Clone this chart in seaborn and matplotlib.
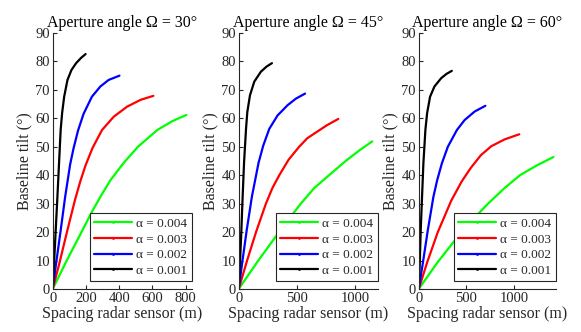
import numpy as np
import pandas as pd
import matplotlib
matplotlib.use("Agg")
import matplotlib.pyplot as plt
from matplotlib.lines import Line2D
import seaborn as sns

# valores (x em m, y em graus)
angulos = [30, 45, 60]
alfas = ["0.004", "0.003", "0.002", "0.001"]
cores = ["#00ff00", "#ff0000", "#0000ff", "#000000"]
xlims = [840, 1200, 1440]
xticks = [[0, 200, 400, 600, 800], [0, 500, 1000], [0, 500, 1000]]

# Omega = 30
x30_a1 = [0, 8, 18, 28, 38, 48, 57, 69, 89, 113, 141, 170, 198]
y30_a1 = [0, 8.8, 20.6, 32, 44, 56, 62, 67.6, 73.5, 77, 79.4, 81.2, 82.6]
x30_a2 = [0, 20, 48, 75, 105, 125, 152, 186, 236, 287, 337, 402]
y30_a2 = [0, 8.8, 20.6, 32.4, 43.8, 49.3, 55.6, 61.6, 67.6, 71.2, 73.5, 75]
x30_a3 = [0, 40, 89, 135, 166, 198, 240, 297, 368, 448, 529, 606]
y30_a3 = [0, 9, 20.8, 31.5, 37.8, 43.5, 49.6, 55.9, 60.6, 64.1, 66.5, 67.9]
x30_a4 = [0, 80, 160, 236, 287, 347, 424, 513, 630, 720, 805]
y30_a4 = [0, 9.5, 18.5, 27.1, 32.4, 38.2, 44.1, 50, 55.9, 59, 61.2]

# Omega = 45
x45_a1 = [0, 11, 23, 34, 46, 63, 74, 97, 134, 191, 240, 286]
y45_a1 = [0, 8.9, 20.7, 32.6, 44.4, 56.3, 62.2, 68.1, 72.9, 76.4, 78.2, 79.4]
x45_a2 = [0, 29, 69, 114, 171, 211, 263, 334, 420, 491, 571]
y45_a2 = [0, 8.9, 20.7, 32.6, 44.4, 50.4, 56.3, 61, 64.6, 66.9, 68.7]
x45_a3 = [0, 72, 149, 234, 290, 349, 430, 520, 590, 663, 760, 857]
y45_a3 = [0, 10, 20, 30, 35.5, 40, 45.5, 50, 53, 55, 57.6, 59.8]
x45_a4 = [0, 160, 320, 449, 534, 650, 777, 920, 1040, 1149]
y45_a4 = [0, 9.5, 18.5, 25.5, 30, 35.5, 40, 45, 48.8, 51.9]

# Omega = 60
x60_a1 = [0, 11, 21, 35, 49, 70, 88, 119, 165, 235, 290, 347]
y60_a1 = [0, 8.8, 20.6, 32.4, 44.1, 55.9, 61.8, 67.6, 71.2, 74.1, 75.6, 76.7]
x60_a2 = [0, 42, 95, 154, 193, 242, 305, 400, 481, 586, 698]
y60_a2 = [0, 8.8, 20.6, 32.4, 38.2, 44.1, 50, 55.9, 59.4, 62.4, 64.4]
x60_a3 = [0, 90, 200, 340, 450, 544, 650, 760, 900, 1053]
y60_a3 = [0, 9.5, 20, 31, 37.8, 42.5, 47, 50.2, 52.6, 54.4]
x60_a4 = [0, 200, 400, 568, 726, 900, 1060, 1240, 1411]
y60_a4 = [0, 9.5, 18, 24.5, 30, 35.5, 40, 43.5, 46.4]

curvas = {
    30: [(x30_a4, y30_a4), (x30_a3, y30_a3), (x30_a2, y30_a2), (x30_a1, y30_a1)],
    45: [(x45_a4, y45_a4), (x45_a3, y45_a3), (x45_a2, y45_a2), (x45_a1, y45_a1)],
    60: [(x60_a4, y60_a4), (x60_a3, y60_a3), (x60_a2, y60_a2), (x60_a1, y60_a1)],
}

linhas = []
for ang in angulos:
    for alfa, (xs, ys) in zip(alfas, curvas[ang]):
        for xv, yv in zip(xs, ys):
            linhas.append({"angulo": ang, "alfa": alfa, "x": xv, "y": yv})
df = pd.DataFrame(linhas)

sns.set_style("ticks")
plt.rcParams["font.family"] = ["Liberation Serif", "DejaVu Serif"]
cinza = "#262626"

fig = plt.figure(figsize=(5.81, 3.32), dpi=100)
lefts = [52.7, 238.7, 418.7]
larguras = [139.5, 139.5, 137.5]

for i, ang in enumerate(angulos):
    ax = fig.add_axes([lefts[i] / 581, 43 / 332, larguras[i] / 581, 256 / 332])
    sub = df[df["angulo"] == ang]
    sns.lineplot(data=sub, x="x", y="y", hue="alfa", hue_order=alfas,
                 palette=cores, sort=False, estimator=None, legend=False,
                 linewidth=1.6, ax=ax)
    ax.set_xlim(0, xlims[i])
    ax.set_ylim(0, 90)
    ax.set_xticks(xticks[i])
    ax.set_yticks(range(0, 91, 10))
    ax.tick_params(direction="in", length=3, width=0.8, labelsize=10.5,
                   colors=cinza, pad=2)
    for s in ["top", "right"]:
        ax.spines[s].set_visible(False)
    for s in ["left", "bottom"]:
        ax.spines[s].set_color(cinza)
        ax.spines[s].set_linewidth(0.8)
    ax.set_title(f"Aperture angle Ω = {ang}°", fontsize=11.5, color="black", pad=4)
    ax.set_xlabel("Spacing radar sensor (m)", fontsize=11.5, color=cinza, labelpad=1)
    ax.set_ylabel("Baseline tilt (°)", fontsize=11.5, color=cinza, labelpad=2)

    # legenda no estilo do original: linha com ponto no meio
    handles = [Line2D([0], [0], color=c, lw=1.6, marker=".", markersize=4,
                      markeredgewidth=0) for c in cores]
    leg = ax.legend(handles, [f"α = {a}" for a in alfas], loc="lower right",
                    bbox_to_anchor=(1.0, 0.03), borderaxespad=0, fontsize=9.5,
                    handlelength=2.9, handletextpad=0.3, labelspacing=0.25,
                    borderpad=0.35, fancybox=False, framealpha=1)
    leg.get_frame().set_edgecolor(cinza)
    leg.get_frame().set_linewidth(0.8)

fig.savefig("out.png", dpi=100)
